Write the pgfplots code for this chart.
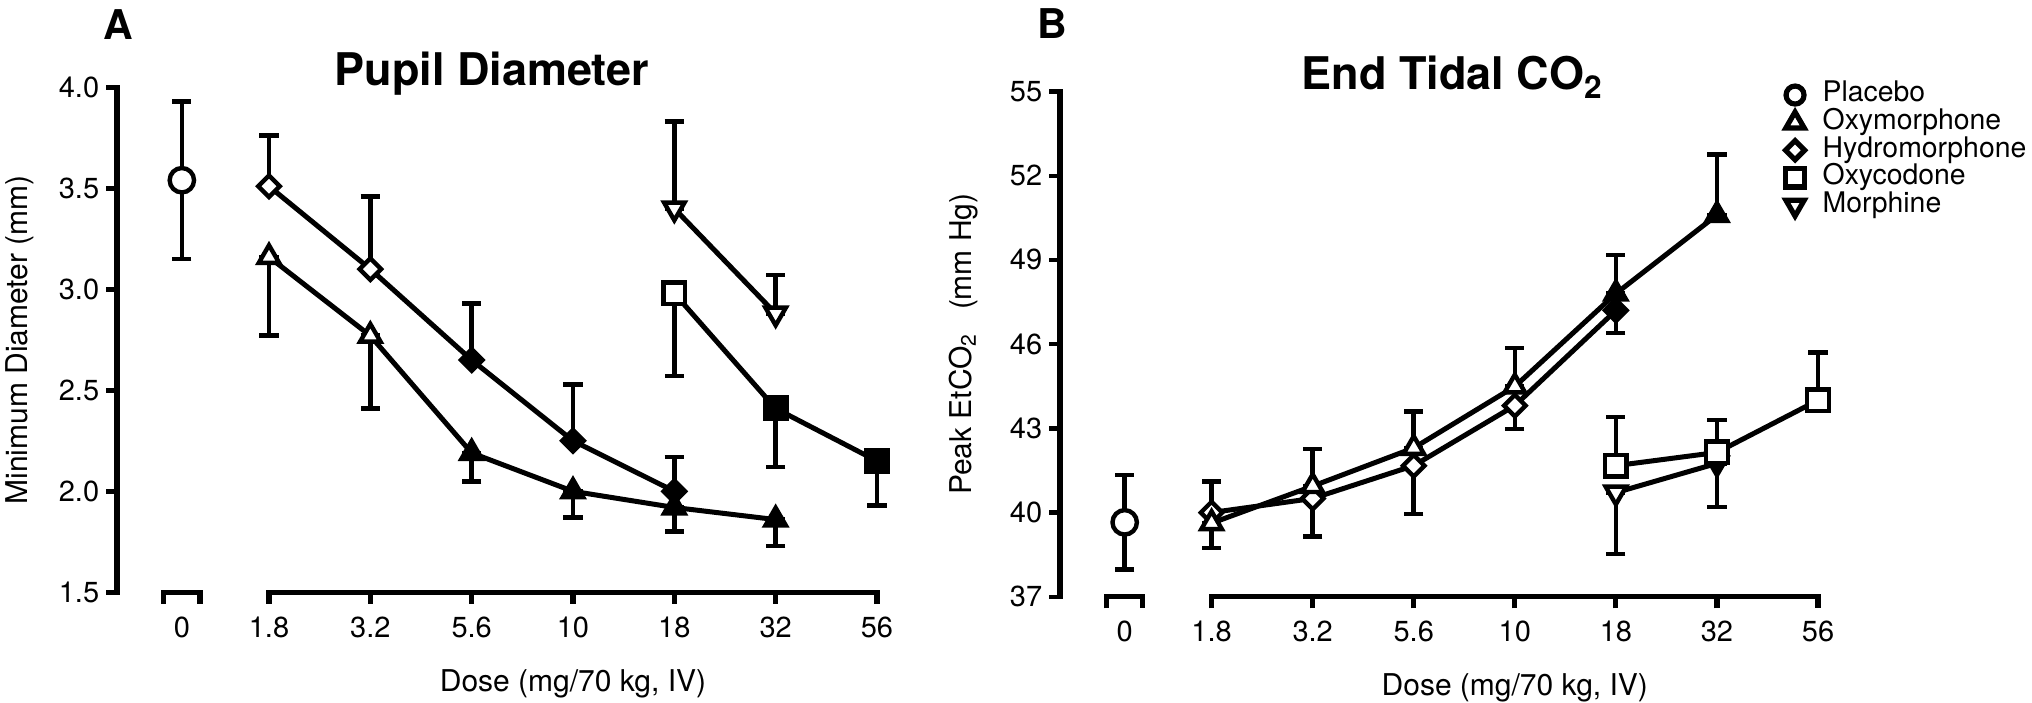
\documentclass[border=0pt]{standalone}
\usepackage{fontspec}
\setmainfont{TeX Gyre Heros}
\usepackage{pgfplots}
\pgfplotsset{compat=1.18}

% 1 px of the reference = 0.5pt
\pgfplotsset{
  panel/.style={
    scale only axis, clip=false,
    xmin=-0.5, xmax=7,
    axis lines*=left,
    x axis line style={draw=none},
    y axis line style={line width=2.6pt, line cap=rect, -},
    xtick={0.14,1,2,3,4,5,6,7},
    xticklabels={0,1.8,3.2,5.6,10,18,32,56},
    xtick style={draw=none},
    ytick style={line width=2.2pt, black},
    tick align=outside,
    major tick length=5.4pt,
    /pgf/number format/assume math mode=true,
    tick label style={font=\fontsize{14.5}{17}\selectfont, black},
    xticklabel style={anchor=base, yshift=-17pt},
    label style={font=\fontsize{15}{18}\selectfont, inner sep=0pt},
    xlabel={Dose (mg/70 kg, IV)},
    xlabel style={at={([yshift=-49.5pt]axis description cs:0.6,0)}, anchor=base},
    ylabel style={at={([xshift=-44.5pt]axis description cs:0,0.5)}, anchor=base},
  },
  serl/.style={black, line width=2.5pt, mark=none, forget plot,
    error bars/.cd, y dir=both, y explicit, error mark=|,
    error bar style={line width=2.3pt, black},
    error mark options={line width=2.3pt, mark size=4.8pt, black}},
  opn/.style={only marks, forget plot, mark options={line width=2.2pt, draw=black, fill=white}},
  fil/.style={only marks, forget plot, mark options={line width=2.2pt, draw=black, fill=black}},
  circ/.style={mark=*, mark size=6.1pt},
  tri/.style={mark=triangle*, mark size=5.9pt},
  dtri/.style={mark=triangle*, mark size=5.9pt, every mark/.append style={rotate=180}},
  dia/.style={mark=square*, mark size=3.8pt, every mark/.append style={rotate=45}},
  sq/.style={mark=square*, mark size=5.4pt},
}
\tikzset{bar/.style={line width=2.6pt, black}}

% broken x axis: bracket round the placebo, line with ticks for the doses
\newcommand{\doseaxis}[1]{%
  \draw[bar] ([yshift=-5.8pt]axis cs:-0.04,#1) -- (axis cs:-0.04,#1) -- (axis cs:0.32,#1) -- ([yshift=-5.8pt]axis cs:0.32,#1);
  \draw[bar] ([yshift=-5.8pt]axis cs:1,#1) -- (axis cs:1,#1) -- (axis cs:7,#1) -- ([yshift=-5.8pt]axis cs:7,#1);
  \draw[bar] ([yshift=-5.8pt]axis cs:2,#1) -- (axis cs:2,#1)
             ([yshift=-5.8pt]axis cs:3,#1) -- (axis cs:3,#1)
             ([yshift=-5.8pt]axis cs:4,#1) -- (axis cs:4,#1)
             ([yshift=-5.8pt]axis cs:5,#1) -- (axis cs:5,#1)
             ([yshift=-5.8pt]axis cs:6,#1) -- (axis cs:6,#1);
}

\begin{document}
\begin{tikzpicture}
\path (0,0) rectangle (1016pt,-351pt);

\node[font=\fontsize{20.5}{24}\selectfont\bfseries, anchor=base west, inner sep=0pt] at (51.5pt,-19.5pt) {A};
\node[font=\fontsize{20.5}{24}\selectfont\bfseries, anchor=base west, inner sep=0pt] at (518.3pt,-19.3pt) {B};

% ==================== A: pupil diameter ====================
\begin{axis}[panel,
  at={(58.5pt,-296.15pt)}, anchor=south west,
  width=380pt, height=252.5pt,
  ymin=1.5, ymax=4.0,
  ytick={1.5,2.0,2.5,3.0,3.5,4.0},
  yticklabels={1.5,2.0,2.5,3.0,3.5,4.0},
  ylabel={Minimum Diameter (mm)},
]
\doseaxis{1.5}
\node[font=\fontsize{22.5}{27}\selectfont\bfseries, anchor=base, yshift=1pt] at (axis cs:3.2,4.0) {Pupil Diameter};

% lines and error bars
\addplot[serl] coordinates {(0.14,3.54) += (0,0.39) -= (0,0.39)};
\addplot[serl] coordinates {
  (1,3.16) += (0,0) -= (0,0.39)
  (2,2.77) += (0,0) -= (0,0.36)
  (3,2.19) += (0,0) -= (0,0.14)
  (4,2.00) += (0,0) -= (0,0.13)
  (5,1.92) += (0,0) -= (0,0.12)
  (6,1.86) += (0,0) -= (0,0.13)};
\addplot[serl] coordinates {
  (1,3.51) += (0,0.25) -= (0,0)
  (2,3.10) += (0,0.36) -= (0,0)
  (3,2.65) += (0,0.28) -= (0,0)
  (4,2.25) += (0,0.28) -= (0,0)
  (5,2.00) += (0,0.17) -= (0,0)};
\addplot[serl] coordinates {
  (5,2.98) += (0,0) -= (0,0.41)
  (6,2.41) += (0,0) -= (0,0.29)
  (7,2.15) += (0,0) -= (0,0.22)};
\addplot[serl] coordinates {
  (5,3.40) += (0,0.43) -= (0,0)
  (6,2.88) += (0,0.19) -= (0,0)};

% markers: open = not different from placebo, filled = different
\addplot[opn, circ] coordinates {(0.14,3.54)};
\addplot[opn, tri] coordinates {(1,3.16) (2,2.77)};
\addplot[fil, tri] coordinates {(3,2.19) (4,2.00) (5,1.92) (6,1.86)};
\addplot[opn, dia] coordinates {(1,3.51) (2,3.10)};
\addplot[fil, dia] coordinates {(3,2.65) (4,2.25) (5,2.00)};
\addplot[opn, sq] coordinates {(5,2.98)};
\addplot[fil, sq] coordinates {(6,2.41) (7,2.15)};
\addplot[opn, dtri] coordinates {(5,3.40) (6,2.88)};
\end{axis}

% ==================== B: end tidal CO2 ====================
\begin{axis}[panel,
  at={(530pt,-298.35pt)}, anchor=south west,
  width=379pt, height=252.6pt,
  ymin=37, ymax=55,
  ytick={37,40,43,46,49,52,55},
  ylabel={Peak EtCO\textsubscript{2}\hspace{0.5em} (mm Hg)},
  legend cell align=left,
  legend style={at={(axis description cs:0.9565,1.0211)}, anchor=north west,
    draw=none, fill=none, inner sep=0pt, row sep=0pt,
    font=\fontsize{14.2}{14}\selectfont,
    nodes={inner sep=0.5pt, text height=9.8pt, text depth=3pt},
    /tikz/every odd column/.style={column sep=8.5pt}},
]
\doseaxis{37}
\node[font=\fontsize{22.5}{27}\selectfont\bfseries, anchor=base, yshift=1pt] at (axis cs:3.38,55) {End Tidal CO\textsubscript{2}};

\addplot[serl] coordinates {(0.14,39.65) += (0,1.68) -= (0,1.67)};
\addplot[serl] coordinates {
  (1,39.62) += (0,0) -= (0,0.89)
  (2,40.94) += (0,1.33) -= (0,0)
  (3,42.30) += (0,1.30) -= (0,0)
  (4,44.49) += (0,1.37) -= (0,0)
  (5,47.80) += (0,1.37) -= (0,0)
  (6,50.60) += (0,2.15) -= (0,0)};
\addplot[serl] coordinates {
  (1,40.00) += (0,1.10) -= (0,0)
  (2,40.50) += (0,0) -= (0,1.35)
  (3,41.67) += (0,0) -= (0,1.72)
  (4,43.81) += (0,0) -= (0,0.83)
  (5,47.20) += (0,0) -= (0,0.80)};
\addplot[serl] coordinates {
  (5,41.67) += (0,1.73) -= (0,0)
  (6,42.14) += (0,1.16) -= (0,0)
  (7,44.00) += (0,1.70) -= (0,0)};
\addplot[serl] coordinates {
  (5,40.71) += (0,0) -= (0,2.19)
  (6,41.75) += (0,0) -= (0,1.55)};

\addplot[opn, circ] coordinates {(0.14,39.65)};
\addplot[opn, dia] coordinates {(1,40.00) (2,40.50) (3,41.67) (4,43.81)};
\addplot[fil, dia] coordinates {(5,47.20)};
\addplot[opn, tri] coordinates {(1,39.62) (2,40.94) (3,42.30) (4,44.49)};
\addplot[fil, tri] coordinates {(5,47.80) (6,50.60)};
\addplot[opn, dtri] coordinates {(5,40.71)};
\addplot[fil, dtri] coordinates {(6,41.75)};
\addplot[opn, sq] coordinates {(5,41.67) (6,42.14) (7,44.00)};

% legend
\addlegendimage{only marks, mark=*, mark size=4.5pt, mark options={line width=2.6pt, draw=black, fill=white}}
\addlegendentry{Placebo}
\addlegendimage{only marks, mark=triangle*, mark size=5.3pt, mark options={line width=2.6pt, draw=black, fill=white}}
\addlegendentry{Oxymorphone}
\addlegendimage{only marks, mark=square*, mark size=3.4pt, mark options={line width=2.6pt, draw=black, fill=white, rotate=45}}
\addlegendentry{Hydromorphone}
\addlegendimage{only marks, mark=square*, mark size=4.6pt, mark options={line width=2.6pt, draw=black, fill=white}}
\addlegendentry{Oxycodone}
\addlegendimage{only marks, mark=triangle*, mark size=5.3pt, mark options={line width=2.6pt, draw=black, fill=white, rotate=180}}
\addlegendentry{Morphine}
\end{axis}
\end{tikzpicture}
\end{document}
